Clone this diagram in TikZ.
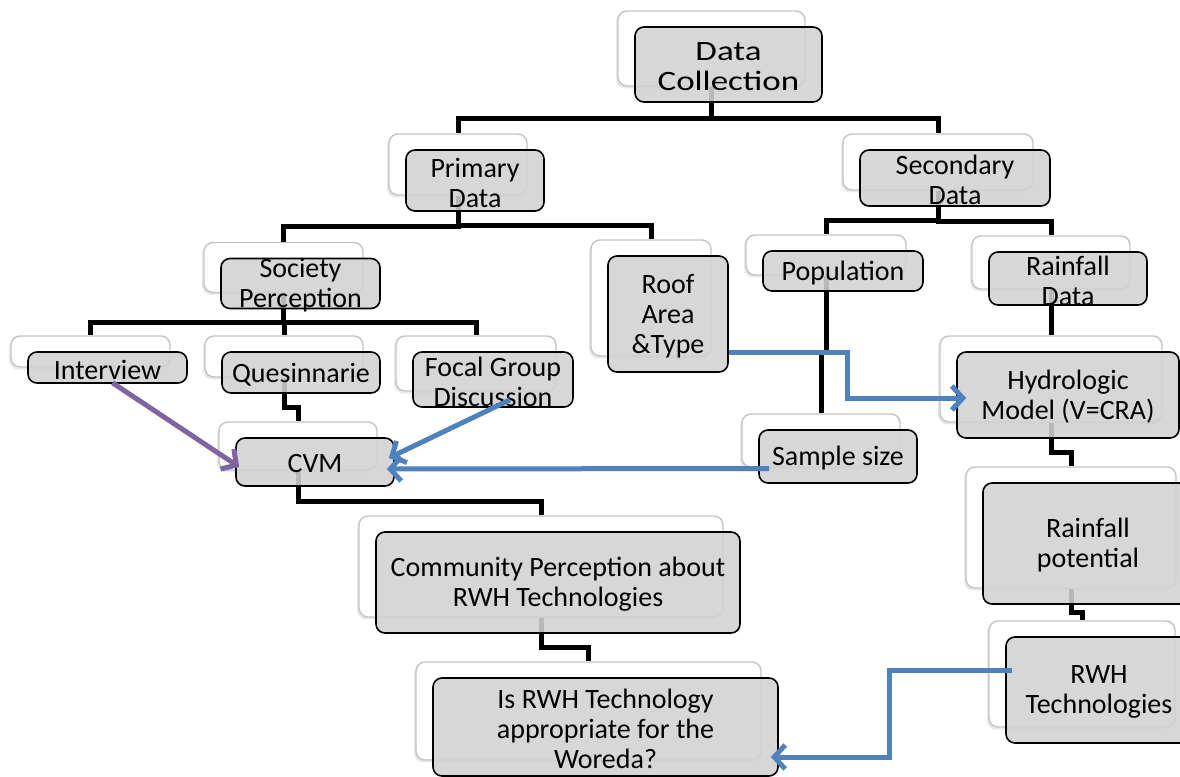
\documentclass[tikz,border=0pt]{standalone}
\usepackage{fontspec}
\setmainfont{Carlito}
\newfontfamily\widefont{Carlito}[FakeStretch=1.25]
\usetikzlibrary{calc,arrows.meta,shadows}

\pgfdeclarelayer{back}
\pgfdeclarelayer{wires}
\pgfsetlayers{back,wires,main}

\definecolor{boxgray}{RGB}{210,210,210}
\definecolor{edgegray}{RGB}{196,196,196}
\definecolor{flowblue}{RGB}{79,129,189}
\definecolor{flowpurple}{RGB}{128,100,162}

\tikzset{
  backbox/.style={draw=edgegray, line width=0.7pt, fill=white, rounded corners=4.5pt,
    inner sep=0pt, drop shadow={shadow xshift=-1pt, shadow yshift=-1.2pt, opacity=0.18}},
  frontbox/.style={draw=black, line width=0.8pt, fill=boxgray, fill opacity=0.88,
    rounded corners=4.5pt, inner sep=0pt},
  boxtext/.style={align=center, inner sep=0pt, font=\fontsize{14}{15}\selectfont},
  wire/.style={draw=black, line width=2.5pt},
  elbow/.style={to path={(\tikztostart) |- ($(\tikztostart)!0.5!(\tikztotarget)+(0,8)$) -| (\tikztotarget)}},
  flow/.style={draw=flowblue, line width=2.5pt, -{Straight Barb[length=5.5pt,width=12pt]}},
  purpleflow/.style={flow, draw=flowpurple}
}

% #1 name, #2 centre of the front box, #3 width, #4 height (pixels), #5 text
\newcommand{\twinbox}[5]{%
  \begin{pgfonlayer}{back}
    \node[backbox, minimum width=#3*0.5pt, minimum height=#4*0.5pt] (#1b) at ([shift={(-17,-16)}]#2) {};
  \end{pgfonlayer}
  \node[frontbox, minimum width=#3*0.5pt, minimum height=#4*0.5pt] (#1) at (#2) {};
  \node[boxtext] (#1t) at ([yshift=-1pt]#1.center) {#5};
}

\begin{document}
\begin{tikzpicture}[x=0.5pt,y=-0.5pt]
  \useasboundingbox (0,0) rectangle (1180,777);
  \clip (0,0) rectangle (1180,777);

  \twinbox{dc}{728.5,64.5}{187}{75}{{\widefont Data}\\{\widefont Collection}}
  \twinbox{pd}{475,180.5}{138}{61}{Primary\\Data}
  \twinbox{sd}{955,178}{190}{56}{Secondary\\Data}
  \twinbox{sp}{300.5,283.5}{159}{50}{Society\\Perception}
  \twinbox{ra}{668,314}{120}{116}{Roof\\Area\\\&Type}
  \twinbox{po}{843,271}{160}{40}{Population}
  \twinbox{rd}{1068,278.5}{158}{53}{Rainfall\\Data}
  \twinbox{iv}{107.5,367.5}{159}{31}{Interview}
  \twinbox{qu}{301,372.5}{158}{41}{Quesinnarie}
  \twinbox{fg}{493,379.5}{160}{55}{Focal Group\\Discussion}
  \twinbox{cvm}{315,462}{158}{48}{CVM}
  \twinbox{ss}{838,456.5}{158}{53}{Sample size}
  \twinbox{hm}{1068,395}{222}{86}{Hydrologic\\Model (V=CRA)}
  \twinbox{rp}{1088,543.5}{210}{121}{Rainfall\\potential}
  \twinbox{rt}{1099,690}{186}{106}{RWH\\Technologies}
  \twinbox{cp}{558,582.5}{364}{101}{Community Perception about\\RWH Technologies}
  \twinbox{ir}{605.5,727}{345}{98}{Is RWH Technology\\appropriate for the\\Woreda?}

  \begin{pgfonlayer}{wires}
    \begin{scope}[wire]
      \draw (dcb.south) to[elbow] (pdb.north);
      \draw (dcb.south) to[elbow] (sdb.north);
      \draw (pdb.south) to[elbow] (spb.north);
      \draw (pdb.south) to[elbow] (rab.north);
      \draw (sdb.south) to[elbow] (pob.north);
      \draw (sdb.south) to[elbow] (rdb.north);
      \draw (spb.south) to[elbow] (ivb.north);
      \draw (spb.south) to[elbow] (qub.north);
      \draw (spb.south) to[elbow] (fgb.north);
      \draw (qub.south) to[elbow] (cvmb.north);
      \draw (pob.south) to[elbow] (ssb.north);
      \draw (rdb.south) to[elbow] (hmb.north);
      \draw (cvmb.south) to[elbow] (cpb.north);
      \draw (hmb.south) to[elbow] (rpb.north);
      \draw (rpb.south) to[elbow] (rtb.north);
      \draw (cpb.south) to[elbow] (irb.north);
    \end{scope}
  \end{pgfonlayer}

  \draw[purpleflow] ([shift={(5,-1)}]iv.south) -- ([shift={(4,5)}]cvm.west);
  \draw[flow] ([shift={(17,-8)}]fg.south) -- ([shift={(-6,-4)}]cvm.east);
  \draw[flow] ([shift={(11,12)}]ss.west) -- ([shift={(-8,7)}]cvm.east);
  \draw[flow] ([shift={(0,38)}]ra.east) -- ++(119,0) |- ([shift={(10,3)}]hm.west);
  \draw[flow] ([shift={(7,-20)}]rt.west) -- ++(-123,0) |- ([shift={(-8,30)}]ir.east);
\end{tikzpicture}
\end{document}
